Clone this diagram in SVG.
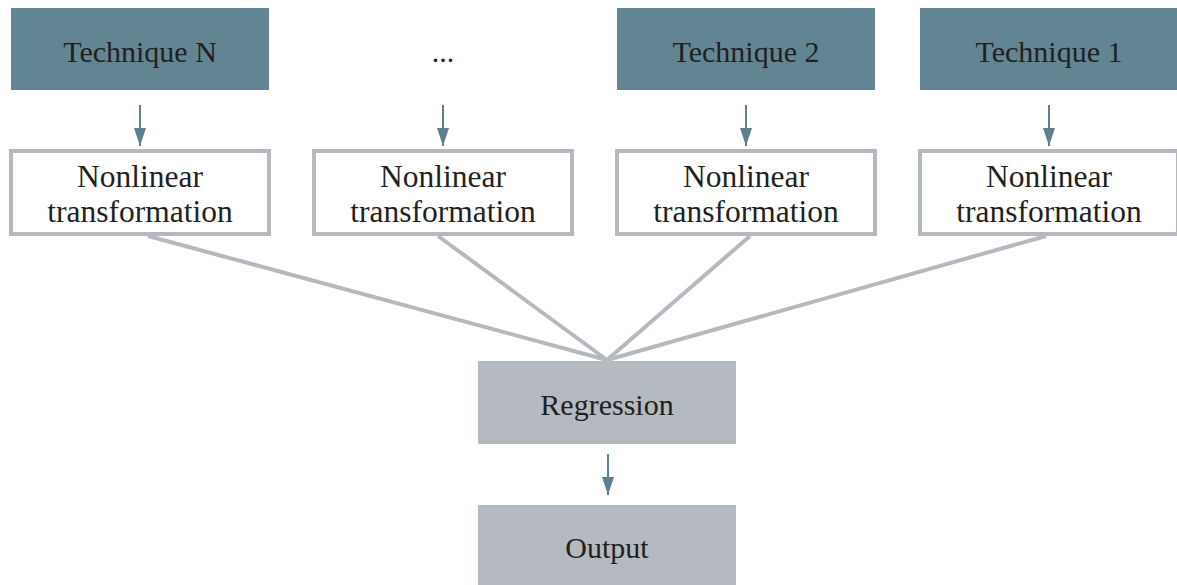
<svg xmlns="http://www.w3.org/2000/svg" width="1177" height="585" viewBox="0 0 1177 585">
<defs>
<style>
.tech{fill:#628594}
.nl{fill:#ffffff;stroke:#b5b9bf;stroke-width:4}
.gr{fill:#b5b9c0}
.t{font-family:"Liberation Serif",serif;font-size:30px;fill:#231f20;text-anchor:middle}
.n{font-size:31.5px}
.arr{stroke:#5e7f8d;stroke-width:2;fill:none}
.fan{stroke:#b5b9bf;stroke-width:4;fill:none}
</style>
<marker id="a" viewBox="0 0 18 12" refX="18" refY="6" markerWidth="18" markerHeight="12" markerUnits="userSpaceOnUse" orient="auto">
<path d="M0,0 L18,6 L0,12 Z" fill="#5e7f8d"/>
</marker>
</defs>
<g id="techN"><rect class="tech" x="11" y="8" width="258" height="82"/><text class="t" x="140" y="62">Technique N</text></g>
<g id="techDots"><text class="t" x="443" y="62">...</text></g>
<g id="tech2"><rect class="tech" x="617" y="8" width="258" height="82"/><text class="t" x="746" y="62">Technique 2</text></g>
<g id="tech1"><rect class="tech" x="920" y="8" width="258" height="82"/><text class="t" x="1049" y="62">Technique 1</text></g>
<g id="nlN"><rect class="nl" x="11" y="151" width="258" height="83"/><text class="t n" x="140" y="187">Nonlinear</text><text class="t n" x="140" y="222">transformation</text></g>
<g id="nlDots"><rect class="nl" x="314" y="151" width="258" height="83"/><text class="t n" x="443" y="187">Nonlinear</text><text class="t n" x="443" y="222">transformation</text></g>
<g id="nl2"><rect class="nl" x="617" y="151" width="258" height="83"/><text class="t n" x="746" y="187">Nonlinear</text><text class="t n" x="746" y="222">transformation</text></g>
<g id="nl1"><rect class="nl" x="920" y="151" width="258" height="83"/><text class="t n" x="1049" y="187">Nonlinear</text><text class="t n" x="1049" y="222">transformation</text></g>
<g id="regression"><rect class="gr" x="478" y="361" width="258" height="83"/><text class="t" x="607" y="415">Regression</text></g>
<g id="output"><rect class="gr" x="478" y="505" width="258" height="80"/><text class="t" x="607" y="558">Output</text></g>
<g id="connectors">
<line class="arr" x1="140" y1="105" x2="140" y2="146" marker-end="url(#a)"/>
<line class="arr" x1="443" y1="105" x2="443" y2="146" marker-end="url(#a)"/>
<line class="arr" x1="746" y1="105" x2="746" y2="146" marker-end="url(#a)"/>
<line class="arr" x1="1049" y1="105" x2="1049" y2="146" marker-end="url(#a)"/>
<line class="arr" x1="608" y1="454" x2="608" y2="495" marker-end="url(#a)"/>
<line class="fan" x1="148" y1="236" x2="607" y2="360"/>
<line class="fan" x1="438" y1="236" x2="607" y2="360"/>
<line class="fan" x1="750" y1="236" x2="607" y2="360"/>
<line class="fan" x1="1046" y1="236" x2="607" y2="360"/>
</g>
</svg>
